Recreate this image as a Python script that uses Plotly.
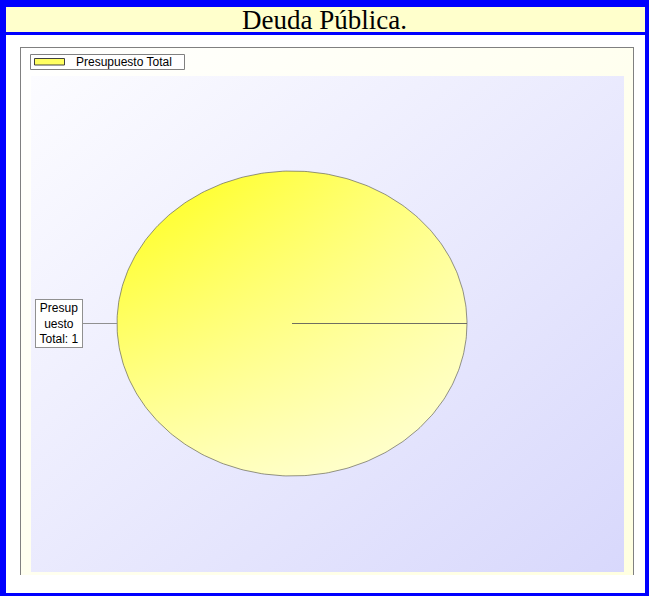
import base64
import numpy as np
import plotly.graph_objects as go

W, H = 649, 596

title_text = "Deuda Pública."
categories = ["Presupuesto Total"]
values = [1]


def px(x):
    return x / W


def py(y):
    return 1 - y / H


def wrap_label(text, maxw=8, chunk=6):
    out, cur = [], ""
    for w in text.split():
        pieces = [w[i:i + chunk] for i in range(0, len(w), chunk)] if len(w) > maxw else [w]
        for p in pieces:
            cand = (cur + " " + p).strip()
            if len(cand) <= maxw:
                cur = cand
            else:
                out.append(cur)
                cur = p
    out.append(cur)
    return "<br>".join(out)


def grad_svg(c1, c2):
    svg = (
        '<svg xmlns="http://www.w3.org/2000/svg" width="100" height="100" '
        'viewBox="0 0 100 100" preserveAspectRatio="none"><defs>'
        '<linearGradient id="g" x1="0" y1="0" x2="1" y2="1">'
        f'<stop offset="0" stop-color="{c1}"/><stop offset="1" stop-color="{c2}"/>'
        '</linearGradient></defs><rect width="100" height="100" fill="url(#g)"/></svg>'
    )
    return "data:image/svg+xml;base64," + base64.b64encode(svg.encode()).decode()


fig = go.Figure()

total = float(sum(values))
start = 0.0
annotations = []
for name, v in zip(categories, values):
    sweep = 2 * np.pi * v / total
    th = np.linspace(start, start + sweep, 361)
    xs = np.concatenate([[0.0], np.cos(th), [0.0]])
    ys = np.concatenate([[0.0], np.sin(th), [0.0]])
    # slice fill: horizontal gradient
    fig.add_trace(go.Scatter(
        x=xs, y=ys, mode="lines", fill="toself", name=name,
        line=dict(width=0, color="rgba(0,0,0,0)"),
        fillgradient=dict(type="horizontal", colorscale=[[0, "#FFFF10"], [1, "#FFFF8C"]],
                          start=-1, stop=1),
        hoverinfo="name", showlegend=False,
    ))
    # vertical whitening overlay -> diagonal look
    fig.add_trace(go.Scatter(
        x=xs, y=ys, mode="lines", fill="toself", name=name,
        line=dict(width=0, color="rgba(0,0,0,0)"),
        fillgradient=dict(type="vertical",
                          colorscale=[[0, "rgba(255,255,255,0.68)"], [1, "rgba(255,255,255,0)"]],
                          start=-1, stop=1),
        hoverinfo="skip", showlegend=False,
    ))
    # slice outline
    fig.add_trace(go.Scatter(
        x=xs, y=ys, mode="lines", line=dict(color="rgba(90,90,90,0.65)", width=1),
        hoverinfo="skip", showlegend=False,
    ))
    mid = start + sweep / 2
    annotations.append(dict(
        x=float(np.cos(mid)), y=float(np.sin(mid)), xref="x", yref="y",
        text=wrap_label(f"{name}: {v}"), showarrow=True, arrowhead=0,
        arrowcolor="#909090", arrowwidth=1, ax=-58, ay=0,
        font=dict(family="Liberation Sans, Arial", size=12, color="black"),
        bgcolor="white", bordercolor="#909090", borderwidth=1, borderpad=1,
        width=44, align="center",
    ))
    start += sweep

# title
annotations.append(dict(
    x=px(324), y=py(19.5), xref="paper", yref="paper", text=title_text,
    showarrow=False, xanchor="center", yanchor="middle",
    font=dict(family="Liberation Serif, Times New Roman", size=27, color="black"),
))

blue = "#0000FF"
shapes = [
    dict(type="rect", xref="paper", yref="paper", x0=px(6), x1=px(645), y0=py(7), y1=py(32),
         fillcolor="#FFFFCC", line=dict(width=0)),
    dict(type="rect", xref="paper", yref="paper", x0=0, x1=px(6), y0=0, y1=1,
         fillcolor=blue, line=dict(width=0)),
    dict(type="rect", xref="paper", yref="paper", x0=px(645), x1=1, y0=0, y1=1,
         fillcolor=blue, line=dict(width=0)),
    dict(type="rect", xref="paper", yref="paper", x0=0, x1=1, y0=py(7), y1=1,
         fillcolor=blue, line=dict(width=0)),
    dict(type="rect", xref="paper", yref="paper", x0=0, x1=1, y0=0, y1=py(593),
         fillcolor=blue, line=dict(width=0)),
    dict(type="rect", xref="paper", yref="paper", x0=0, x1=1, y0=py(35), y1=py(32),
         fillcolor=blue, line=dict(width=0)),
    dict(type="line", xref="paper", yref="paper", x0=px(20.5), x1=px(20.5), y0=py(47), y1=py(575),
         line=dict(color="#808080", width=1)),
    dict(type="line", xref="paper", yref="paper", x0=px(633.5), x1=px(633.5), y0=py(47), y1=py(575),
         line=dict(color="#808080", width=1)),
    dict(type="line", xref="paper", yref="paper", x0=px(20.5), x1=px(633.5), y0=py(47.5), y1=py(47.5),
         line=dict(color="#808080", width=1)),
]

# legend box (one entry per category)
leg_top = 54.5
for i, name in enumerate(categories):
    y0 = leg_top + i * 15
    shapes.append(dict(type="rect", xref="paper", yref="paper",
                       x0=px(30.5), x1=px(184.5), y0=py(y0), y1=py(y0 + 15),
                       fillcolor="white", line=dict(color="#808080", width=1)))
    shapes.append(dict(type="rect", xref="paper", yref="paper",
                       x0=px(34.5), x1=px(64.5), y0=py(y0 + 4), y1=py(y0 + 10.5),
                       fillcolor="#FFFF60", line=dict(color="#404040", width=1)))
    annotations.append(dict(x=px(74), y=py(y0 + 7.5), xref="paper", yref="paper",
                            text=name, showarrow=False, xanchor="left", yanchor="middle",
                            font=dict(family="Liberation Sans, Arial", size=12, color="black")))

images = [
    dict(source=grad_svg("#FFFFFF", "#FFFFE0"), xref="paper", yref="paper",
         x=px(21), y=py(48), sizex=(633 - 21) / W, sizey=(575 - 48) / H,
         xanchor="left", yanchor="top", sizing="stretch", layer="below"),
    dict(source=grad_svg("#FCFCFF", "#D8D8FC"), xref="paper", yref="paper",
         x=px(31), y=py(76), sizex=(624 - 31) / W, sizey=(572 - 76) / H,
         xanchor="left", yanchor="top", sizing="stretch", layer="below"),
]

fig.update_layout(
    width=W, height=H,
    margin=dict(l=0, r=0, t=0, b=0),
    paper_bgcolor="white", plot_bgcolor="rgba(0,0,0,0)",
    xaxis=dict(domain=[px(31), px(624)], range=[-1.49143, 1.89714], visible=False, fixedrange=True),
    yaxis=dict(domain=[py(572), py(76)], range=[-1.62951, 1.62295], visible=False, fixedrange=True),
    showlegend=False,
    shapes=shapes, images=images, annotations=annotations,
)

fig.write_html("out.html", config={"displayModeBar": False},
               post_script="document.body.style.margin='0px';document.body.style.overflow='hidden';")
